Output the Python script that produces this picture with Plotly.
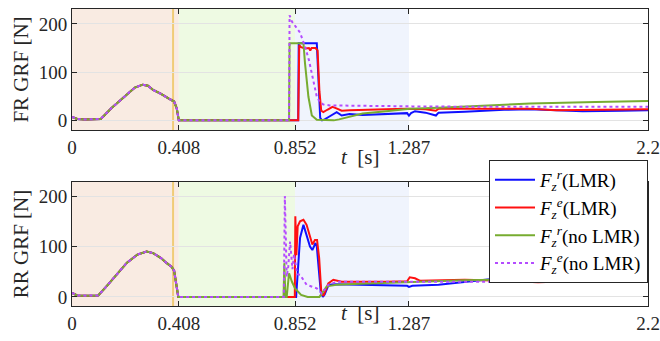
import plotly.graph_objects as go

# ---------------- data ----------------
tick_vals = [0, 0.408, 0.852, 1.287, 2.2]
y_ticks = [0, 100, 200]
phase_bounds = [0, 0.408, 0.852, 1.287]
marker_t = 0.386

fr_stance_t = [0, 0.01, 0.02, 0.05, 0.10, 0.11, 0.15, 0.20, 0.24, 0.27, 0.29, 0.31, 0.34, 0.37, 0.39, 0.40, 0.408]
fr_stance_v = [7, 5, 3, 2, 2, 3, 25, 50, 68, 74, 72, 63, 55, 45, 39, 25, 0]

rr_stance_t = [0, 0.01, 0.02, 0.05, 0.10, 0.13, 0.17, 0.21, 0.25, 0.285, 0.31, 0.34, 0.362, 0.38, 0.39, 0.398, 0.406]
rr_stance_v = [8, 5, 3, 2.5, 3, 20, 45, 68, 84, 90, 87, 77, 67, 60, 52, 30, 0]

fr_blue_t = [0.864, 0.866, 0.935, 0.942, 0.948, 0.955, 0.965, 0.98, 1.0, 1.011, 1.03, 1.06, 1.11, 1.2, 1.28, 1.287, 1.295, 1.31, 1.35, 1.39, 1.40, 1.5, 1.65, 1.75, 1.85, 1.95, 2.1, 2.2]
fr_blue_v = [0, 160, 160, 60, 5, 0, 2, 7, 14, 17, 10, 13, 11, 13, 15, 10, 15, 19, 16, 10, 16, 18, 22, 23, 21, 19, 20, 21]

fr_red_t = [0.864, 0.868, 0.875, 0.89, 0.905, 0.91, 0.915, 0.93, 0.938, 0.945, 0.952, 0.96, 0.975, 0.995, 1.01, 1.03, 1.06, 1.1, 1.2, 1.28, 1.35, 1.39, 1.40, 1.6, 1.75, 1.85, 2.0, 2.2]
fr_red_v = [0, 156, 152, 149, 150, 145, 150, 150, 145, 60, 20, 17, 22, 28, 25, 20, 21, 22, 23, 24, 23, 20, 24, 24, 24, 21, 22, 23]

fr_green_t = [0.829, 0.831, 0.884, 0.89, 0.903, 0.916, 0.935, 1.0, 1.02, 1.04, 1.11, 1.2, 1.29, 1.4, 1.6, 1.75, 2.0, 2.2]
fr_green_v = [0, 160, 160, 118, 49, 10, 1, 0, 2, 5, 14, 19, 24, 26, 32, 35, 38, 40]

fr_purple_t = [0.829, 0.831, 0.84, 0.855, 0.871, 0.89, 0.905, 0.916, 0.935, 0.947, 0.96, 0.985, 1.1, 1.3, 1.6, 2.2]
fr_purple_v = [0, 218, 205, 195, 182, 153, 125, 97, 49, 38, 33, 31, 30, 29, 28, 28]

rr_blue_t = [0.856, 0.862, 0.871, 0.884, 0.896, 0.909, 0.918, 0.93, 0.935, 0.943, 0.95, 0.958, 0.965, 0.98, 1.0, 1.1, 1.2, 1.28, 1.287, 1.3, 1.4, 1.5, 1.65, 1.72, 1.78, 1.85, 2.0, 2.2]
rr_blue_v = [0, 44, 117, 143, 123, 100, 93, 107, 100, 50, 10, 0, 5, 24, 25, 24, 23, 22, 20, 22, 24, 30, 38, 40, 38, 33, 33, 34]

rr_red_t = [0.851, 0.853, 0.857, 0.862, 0.871, 0.884, 0.896, 0.909, 0.918, 0.928, 0.936, 0.944, 0.952, 0.96, 0.979, 0.998, 1.03, 1.2, 1.28, 1.29, 1.31, 1.33, 1.5, 1.65, 1.78, 1.9, 2.2]
rr_red_v = [0, 160, 83, 140, 150, 153, 143, 117, 104, 113, 113, 77, 11, 2, 27, 34, 30, 30, 31, 39, 37, 32, 34, 32, 29, 31, 34]

rr_green_t = [0.808, 0.811, 0.815, 0.82, 0.829, 0.84, 0.852, 0.875, 0.9, 0.945, 0.973, 1.01, 1.1, 1.29, 1.5, 1.75, 2.0, 2.2]
rr_green_v = [0, 67, 0, 0, 47, 30, 17, 4, 0, 0, 21, 24, 26, 30, 33, 35, 36, 37]

rr_purple_t = [0.809, 0.813, 0.82, 0.826, 0.833, 0.842, 0.848, 0.86, 0.871, 0.896, 0.935, 0.954, 0.979, 1.011, 1.3, 2.2]
rr_purple_v = [0, 200, 40, 60, 110, 55, 85, 45, 44, 24, 17, 7, 24, 30, 30, 30]

series_names = [
    "<i>F</i><sub><i>z</i></sub><sup><i>r</i></sup>(LMR)",
    "<i>F</i><sub><i>z</i></sub><sup><i>e</i></sup>(LMR)",
    "<i>F</i><sub><i>z</i></sub><sup><i>r</i></sup>(no LMR)",
    "<i>F</i><sub><i>z</i></sub><sup><i>e</i></sup>(no LMR)",
]
panel_titles = ["FR GRF [N]", "RR GRF [N]"]
x_label = "<i>t</i>  [s]"
# --------------------------------------

colors = ["#1010ff", "#ff1010", "#77ac30", "#b44cff"]
dashes = ["solid", "solid", "solid", "dot"]
FONT = "Liberation Serif"
AX = "#262626"

fr_data = [(fr_blue_t, fr_blue_v), (fr_red_t, fr_red_v), (fr_green_t, fr_green_v), (fr_purple_t, fr_purple_v)]
rr_data = [(rr_blue_t, rr_blue_v), (rr_red_t, rr_red_v), (rr_green_t, rr_green_v), (rr_purple_t, rr_purple_v)]

fig = go.Figure()
for panel, (stance_t, stance_v, data, xa, ya) in enumerate([
    (fr_stance_t, fr_stance_v, fr_data, "x", "y"),
    (rr_stance_t, rr_stance_v, rr_data, "x2", "y2"),
]):
    for i, (tt, vv) in enumerate(data):
        fig.add_trace(go.Scatter(
            x=list(stance_t) + list(tt), y=list(stance_v) + list(vv),
            mode="lines", name=series_names[i],
            line=dict(color=colors[i], width=2, dash=dashes[i]),
            xaxis=xa, yaxis=ya, showlegend=(panel == 1),
        ))

shade_colors = ["#f9ebe2", "#eefae3", "#f0f4fd"]
shapes = []
for xr, yr in [("x", "y domain"), ("x2", "y2 domain")]:
    for k in range(3):
        shapes.append(dict(type="rect", xref=xr, yref=yr, x0=phase_bounds[k], x1=phase_bounds[k + 1],
                           y0=0, y1=1, fillcolor=shade_colors[k], line=dict(width=0), layer="below"))
    shapes.append(dict(type="line", xref=xr, yref=yr, x0=marker_t, x1=marker_t, y0=0, y1=1,
                       line=dict(color="#f0cc78", width=2), layer="below"))

def xaxis_cfg(anchor):
    return dict(domain=[0, 1], anchor=anchor, range=[0, 2.2], tickmode="array", tickvals=tick_vals,
                ticks="inside", ticklen=5, tickcolor=AX, showline=True, linecolor=AX, linewidth=1,
                mirror="ticks", showgrid=False, zeroline=False, automargin=False,
                tickfont=dict(family=FONT, size=19, color=AX))

def yaxis_cfg(anchor, dom, rng, title):
    return dict(domain=dom, anchor=anchor, range=rng, tickmode="array", tickvals=y_ticks, ticks="inside",
                ticklen=5, tickcolor=AX, showline=True, linecolor=AX, linewidth=1, mirror="ticks",
                showgrid=True, gridcolor="#e3e3e3", zeroline=False, automargin=False,
                tickfont=dict(family=FONT, size=19, color=AX),
                title=dict(text=title, standoff=4, font=dict(family=FONT, size=21, color=AX)))

fig.update_layout(
    width=660, height=341, margin=dict(l=72, r=12, t=9, b=35, autoexpand=False),
    paper_bgcolor="white", plot_bgcolor="white",
    font=dict(family=FONT, color=AX, size=19),
    xaxis=xaxis_cfg("y"),
    yaxis=yaxis_cfg("x", [0.5926, 1.0], [-20, 231], panel_titles[0]),
    xaxis2=xaxis_cfg("y2"),
    yaxis2=yaxis_cfg("x2", [0.0, 0.4175], [-18, 228], panel_titles[1]),
    shapes=shapes,
    legend=dict(x=1.0, xanchor="right", y=0.4916, yanchor="top", bgcolor="white",
                bordercolor=AX, borderwidth=1, font=dict(family=FONT, size=19, color="black"),
                tracegroupgap=0, itemwidth=40),
    annotations=[
        dict(text=x_label, x=1.10, y=0.5017, xref="x", yref="paper",
             showarrow=False, font=dict(family=FONT, size=21, color=AX)),
        dict(text=x_label, x=1.10, y=-0.0707, xref="x2", yref="paper",
             showarrow=False, font=dict(family=FONT, size=21, color=AX)),
    ],
)

fig.write_html("out.html")
